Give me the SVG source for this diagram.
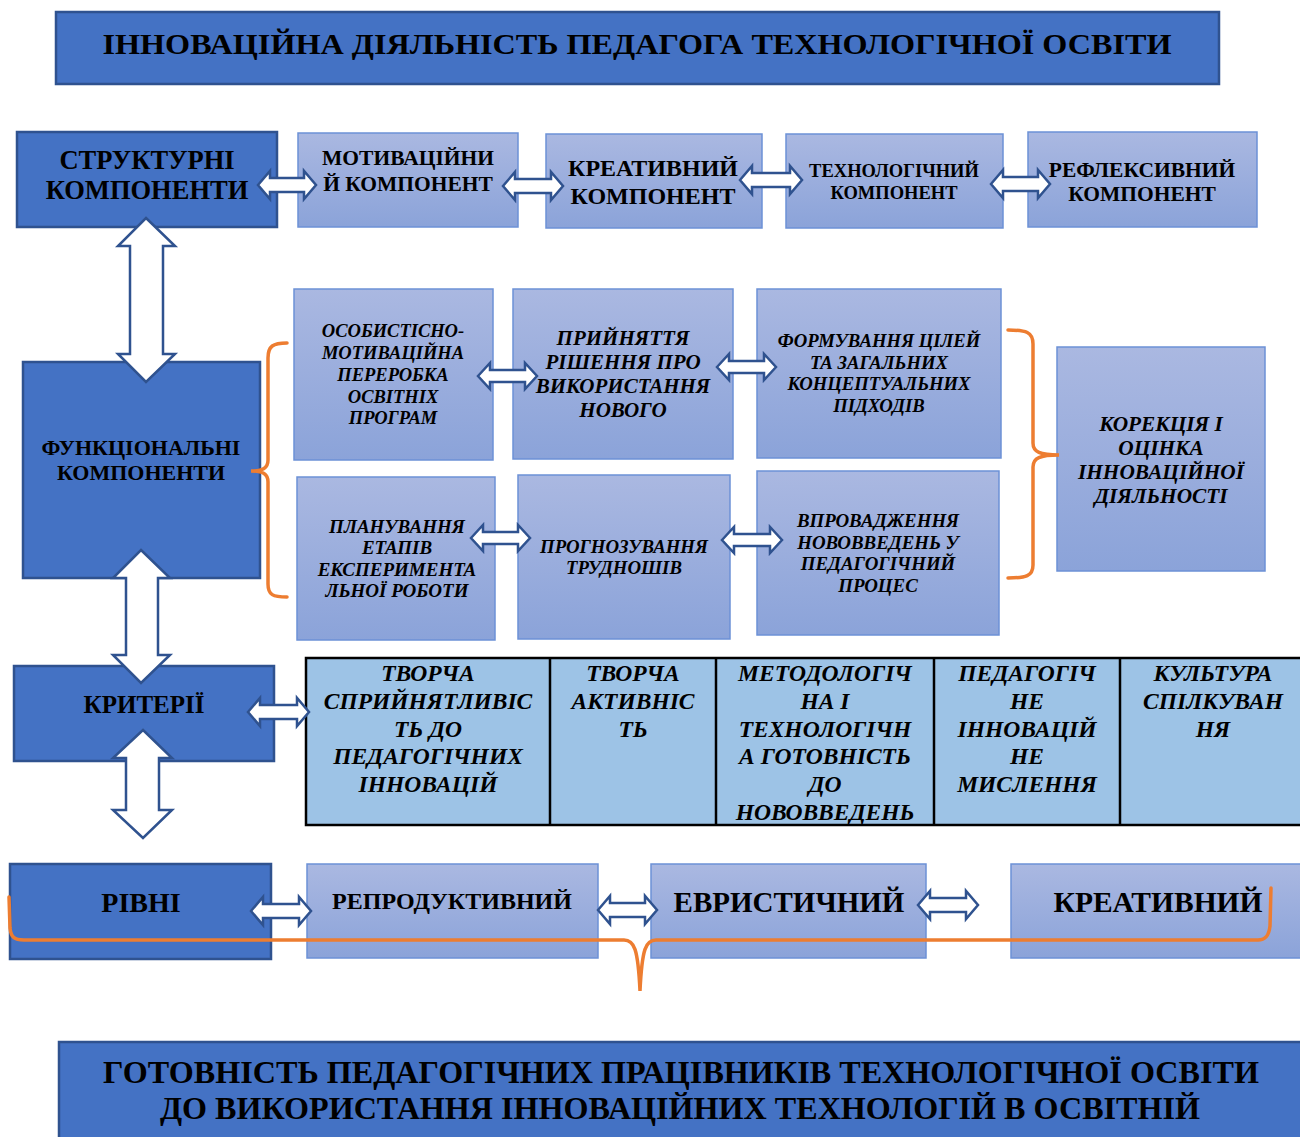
<svg xmlns="http://www.w3.org/2000/svg" width="1300" height="1137" viewBox="0 0 1300 1137">
<defs>
<linearGradient id="lg" x1="0" y1="0" x2="0" y2="1">
<stop offset="0" stop-color="#AAB8E1"/>
<stop offset="1" stop-color="#8BA3D9"/>
</linearGradient>
<style>
.dark{fill:#4472C4;stroke:#2F528F;stroke-width:2.5}
.light{fill:url(#lg);stroke:#6C91D6;stroke-width:1.5}
.arr{fill:#FFFFFF;stroke:#2F528F;stroke-width:2.5;stroke-linejoin:miter}
.br{fill:none;stroke:#ED7D31;stroke-width:3.5;stroke-linecap:round}
.t{font-family:"Liberation Serif","Times New Roman",serif;font-weight:bold;fill:#000;text-anchor:middle}
.i{font-style:italic}
.cell{fill:#9DC3E6;stroke:#000;stroke-width:2.5}
</style>
</defs>
<rect width="1300" height="1137" fill="#FFFFFF"/>

<g id="title">
<rect class="dark" x="56" y="12" width="1163" height="72"/>
<text class="t" x="637" y="54" font-size="30" textLength="1069" lengthAdjust="spacingAndGlyphs">ІННОВАЦІЙНА ДІЯЛЬНІСТЬ ПЕДАГОГА ТЕХНОЛОГІЧНОЇ ОСВІТИ</text>
</g>

<g id="structural">
<rect class="dark" x="17" y="132" width="260" height="95"/>
<text class="t" x="147" y="169" font-size="26.5">СТРУКТУРНІ</text>
<text class="t" x="147" y="199" font-size="26.5">КОМПОНЕНТИ</text>
</g>
<g id="motivational">
<rect class="light" x="298" y="133" width="220" height="94"/>
<text class="t" x="408" y="165" font-size="21.5">МОТИВАЦІЙНИ</text>
<text class="t" x="408" y="191" font-size="21.5">Й КОМПОНЕНТ</text>
</g>
<g id="creative">
<rect class="light" x="546" y="134" width="216" height="94"/>
<text class="t" x="653" y="176" font-size="24">КРЕАТИВНИЙ</text>
<text class="t" x="653" y="204" font-size="24">КОМПОНЕНТ</text>
</g>
<g id="technological">
<rect class="light" x="786" y="134" width="217" height="94"/>
<text class="t" x="894" y="177" font-size="18.5">ТЕХНОЛОГІЧНИЙ</text>
<text class="t" x="894" y="199" font-size="18.5">КОМПОНЕНТ</text>
</g>
<g id="reflexive">
<rect class="light" x="1028" y="132" width="229" height="95"/>
<text class="t" x="1142" y="177" font-size="21.5">РЕФЛЕКСИВНИЙ</text>
<text class="t" x="1142" y="201" font-size="21.5">КОМПОНЕНТ</text>
</g>

<g id="functional">
<rect class="dark" x="23" y="362" width="237" height="216"/>
<text class="t" x="141" y="455" font-size="22">ФУНКЦІОНАЛЬНІ</text>
<text class="t" x="141" y="480" font-size="22">КОМПОНЕНТИ</text>
</g>
<g id="f1">
<rect class="light" x="294" y="289" width="199" height="171"/>
<text class="t i" x="393" y="337" font-size="18.5">ОСОБИСТІСНО-</text>
<text class="t i" x="393" y="359" font-size="18.5">МОТИВАЦІЙНА</text>
<text class="t i" x="393" y="381" font-size="18.5">ПЕРЕРОБКА</text>
<text class="t i" x="393" y="403" font-size="18.5">ОСВІТНІХ</text>
<text class="t i" x="393" y="424" font-size="18.5">ПРОГРАМ</text>
</g>
<g id="f2">
<rect class="light" x="513" y="289" width="220" height="170"/>
<text class="t i" x="623" y="345" font-size="21">ПРИЙНЯТТЯ</text>
<text class="t i" x="623" y="369" font-size="21">РІШЕННЯ ПРО</text>
<text class="t i" x="623" y="393" font-size="21">ВИКОРИСТАННЯ</text>
<text class="t i" x="623" y="417" font-size="21">НОВОГО</text>
</g>
<g id="f3">
<rect class="light" x="757" y="289" width="244" height="169"/>
<text class="t i" x="879" y="347" font-size="18.7">ФОРМУВАННЯ ЦІЛЕЙ</text>
<text class="t i" x="879" y="369" font-size="18.7">ТА ЗАГАЛЬНИХ</text>
<text class="t i" x="879" y="390" font-size="18.7">КОНЦЕПТУАЛЬНИХ</text>
<text class="t i" x="879" y="412" font-size="18.7">ПІДХОДІВ</text>
</g>
<g id="f4">
<rect class="light" x="297" y="477" width="198" height="163"/>
<text class="t i" x="397" y="533" font-size="19">ПЛАНУВАННЯ</text>
<text class="t i" x="397" y="554" font-size="19">ЕТАПІВ</text>
<text class="t i" x="397" y="576" font-size="19">ЕКСПЕРИМЕНТА</text>
<text class="t i" x="397" y="597" font-size="19">ЛЬНОЇ РОБОТИ</text>
</g>
<g id="f5">
<rect class="light" x="518" y="475" width="212" height="164"/>
<text class="t i" x="624" y="553" font-size="18.8">ПРОГНОЗУВАННЯ</text>
<text class="t i" x="624" y="574" font-size="18.8">ТРУДНОШІВ</text>
</g>
<g id="f6">
<rect class="light" x="757" y="471" width="242" height="164"/>
<text class="t i" x="878" y="527" font-size="18.9">ВПРОВАДЖЕННЯ</text>
<text class="t i" x="878" y="549" font-size="18.9">НОВОВВЕДЕНЬ У</text>
<text class="t i" x="878" y="570" font-size="18.9">ПЕДАГОГІЧНИЙ</text>
<text class="t i" x="878" y="592" font-size="18.9">ПРОЦЕС</text>
</g>
<g id="f7">
<rect class="light" x="1057" y="347" width="208" height="224"/>
<text class="t i" x="1161" y="431" font-size="21.3">КОРЕКЦІЯ І</text>
<text class="t i" x="1161" y="455" font-size="21.3">ОЦІНКА</text>
<text class="t i" x="1161" y="479" font-size="21.3">ІННОВАЦІЙНОЇ</text>
<text class="t i" x="1161" y="503" font-size="21.3">ДІЯЛЬНОСТІ</text>
</g>

<g id="criteria">
<rect class="dark" x="14" y="666" width="260" height="95"/>
<text class="t" x="144" y="713" font-size="25">КРИТЕРІЇ</text>
</g>
<g id="criteria-table">
<rect class="cell" x="306" y="658" width="1000" height="167"/>
<line x1="550" y1="658" x2="550" y2="825" stroke="#000" stroke-width="2.5"/>
<line x1="716" y1="658" x2="716" y2="825" stroke="#000" stroke-width="2.5"/>
<line x1="934" y1="658" x2="934" y2="825" stroke="#000" stroke-width="2.5"/>
<line x1="1120" y1="658" x2="1120" y2="825" stroke="#000" stroke-width="2.5"/>
<g class="t i" font-size="23.5">
<text x="428" y="681">ТВОРЧА</text>
<text x="428" y="709">СПРИЙНЯТЛИВІС</text>
<text x="428" y="737">ТЬ ДО</text>
<text x="428" y="764">ПЕДАГОГІЧНИХ</text>
<text x="428" y="792">ІННОВАЦІЙ</text>
<text x="633" y="681">ТВОРЧА</text>
<text x="633" y="709">АКТИВНІС</text>
<text x="633" y="737">ТЬ</text>
<text x="825" y="681">МЕТОДОЛОГІЧ</text>
<text x="825" y="709">НА І</text>
<text x="825" y="737">ТЕХНОЛОГІЧН</text>
<text x="825" y="764">А ГОТОВНІСТЬ</text>
<text x="825" y="792">ДО</text>
<text x="825" y="820">НОВОВВЕДЕНЬ</text>
<text x="1027" y="681">ПЕДАГОГІЧ</text>
<text x="1027" y="709">НЕ</text>
<text x="1027" y="737">ІННОВАЦІЙ</text>
<text x="1027" y="764">НЕ</text>
<text x="1027" y="792">МИСЛЕННЯ</text>
<text x="1213" y="681">КУЛЬТУРА</text>
<text x="1213" y="709">СПІЛКУВАН</text>
<text x="1213" y="737">НЯ</text>
</g>
</g>

<g id="levels">
<rect class="dark" x="10" y="864" width="261" height="95"/>
<text class="t" x="141" y="912" font-size="28">РІВНІ</text>
</g>
<g id="reproductive">
<rect class="light" x="307" y="864" width="291" height="94"/>
<text class="t" x="452" y="909" font-size="24">РЕПРОДУКТИВНИЙ</text>
</g>
<g id="heuristic">
<rect class="light" x="651" y="864" width="275" height="94"/>
<text class="t" x="789" y="912" font-size="29">ЕВРИСТИЧНИЙ</text>
</g>
<g id="creative-level">
<rect class="light" x="1011" y="864" width="295" height="94"/>
<text class="t" x="1158" y="912" font-size="29.5">КРЕАТИВНИЙ</text>
</g>

<g id="result">
<rect class="dark" x="59" y="1042" width="1250" height="110"/>
<text class="t" x="681" y="1083" font-size="31" textLength="1156" lengthAdjust="spacingAndGlyphs">ГОТОВНІСТЬ ПЕДАГОГІЧНИХ ПРАЦІВНИКІВ ТЕХНОЛОГІЧНОЇ ОСВІТИ</text>
<text class="t" x="680" y="1119" font-size="31" textLength="1040" lengthAdjust="spacingAndGlyphs">ДО ВИКОРИСТАННЯ ІННОВАЦІЙНИХ ТЕХНОЛОГІЙ В ОСВІТНІЙ</text>
</g>

<g id="connectors">
<path class="arr" d="M258,185 L270,171 L270,178 L304,178 L304,171 L316,185 L304,199 L304,192 L270,192 L270,199 Z"/>
<path class="arr" d="M503,186 L515,172 L515,179 L551,179 L551,172 L563,186 L551,200 L551,193 L515,193 L515,200 Z"/>
<path class="arr" d="M740,180 L752,166 L752,173 L790,173 L790,166 L802,180 L790,194 L790,187 L752,187 L752,194 Z"/>
<path class="arr" d="M991,184 L1003,170 L1003,177 L1038,177 L1038,170 L1050,184 L1038,198 L1038,191 L1003,191 L1003,198 Z"/>
<path class="arr" d="M478,376 L490,363 L490,370 L525,370 L525,363 L537,376 L525,389 L525,382 L490,382 L490,389 Z"/>
<path class="arr" d="M717,367 L729,354 L729,361 L764,361 L764,354 L776,367 L764,380 L764,373 L729,373 L729,380 Z"/>
<path class="arr" d="M471,538 L483,525 L483,532 L518,532 L518,525 L530,538 L518,551 L518,544 L483,544 L483,551 Z"/>
<path class="arr" d="M722,540 L734,527 L734,534 L770,534 L770,527 L782,540 L770,553 L770,546 L734,546 L734,553 Z"/>
<path class="arr" d="M248,712 L260,698 L260,705 L297,705 L297,698 L309,712 L297,726 L297,719 L260,719 L260,726 Z"/>
<path class="arr" d="M251,911 L263,897 L263,904 L299,904 L299,897 L311,911 L299,925 L299,918 L263,918 L263,925 Z"/>
<path class="arr" d="M598,910 L610,896 L610,903 L645,903 L645,896 L657,910 L645,924 L645,917 L610,917 L610,924 Z"/>
<path class="arr" d="M918,905 L930,891 L930,898 L966,898 L966,891 L978,905 L966,919 L966,912 L930,912 L930,919 Z"/>
<path class="arr" d="M146,218 L175,246 L163,246 L163,354 L175,354 L146,382 L118,354 L130,354 L130,246 L118,246 Z"/>
<path class="arr" d="M141,550 L170,578 L158,578 L158,655 L170,655 L141,683 L113,655 L126,655 L126,578 L113,578 Z"/>
<path class="arr" d="M143,730 L172,758 L159,758 L159,810 L172,810 L143,838 L113,810 L126,810 L126,758 L113,758 Z"/>
<path class="br" d="M287,343 C273,343 268,346 268,358 L268,460 C268,468 263,471 251,471 C263,471 268,474 268,482 L268,584 C268,595 273,597 287,597"/>
<path class="br" d="M1008,330 C1026,330 1033,332 1033,344 L1033,443 C1033,452 1040,455 1059,455 C1040,455 1033,458 1033,467 L1033,565 C1033,576 1026,578 1008,578"/>
<path class="br" d="M9,897 L10,928 C11,937 14,940 24,940 L624,940 C634,940 638,948 640,991 C642,948 646,940 656,940 L1258,940 C1266,940 1269,935 1270,926 L1271,888"/>
</g>
</svg>
